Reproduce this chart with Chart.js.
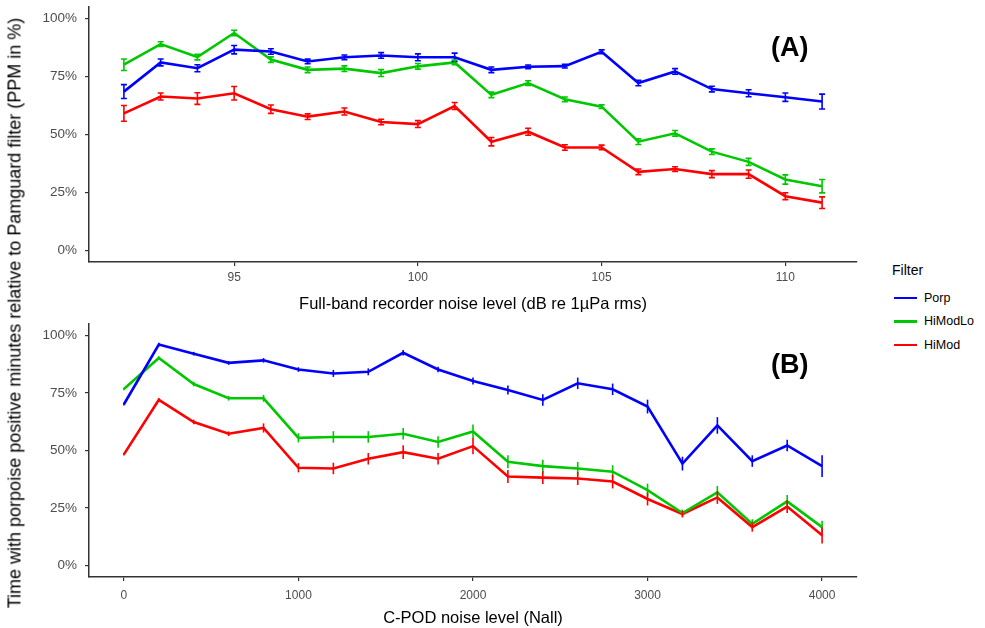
<!DOCTYPE html>
<html>
<head>
<meta charset="utf-8">
<script src="https://cdn.jsdelivr.net/npm/chart.js@4.4.0/dist/chart.umd.min.js"></script>
<style>
  body { margin: 0; background: #fff; font-family: "Liberation Sans", Arial, sans-serif; }
  #wrap { position: relative; width: 985px; height: 628px; overflow: hidden; }
  .panel { position: absolute; left: 0; width: 870px; height: 314px; }
  #panelA { top: 0; }
  #panelB { top: 314px; }
  #ytitle {
    position: absolute; left: 15px; top: 313px; white-space: nowrap;
    transform: translate(-50%, -50%) rotate(-90deg);
    font-size: 18px; color: #000;
  }
  .tag { position: absolute; font-weight: bold; font-size: 27px; color: #000; }
  #legend { position: absolute; left: 892px; top: 262px; font-size: 12.5px; color: #000; }
  #legend .head { font-size: 14px; margin-bottom: 8px; }
  #legend .item { display: flex; align-items: center; height: 23.5px; }
  #legend .sw { width: 23px; height: 2.5px; margin-right: 7px; margin-left: 2px; }
</style>
</head>
<body>
<div id="wrap">
  <div class="panel" id="panelA"><canvas id="chartA"></canvas></div>
  <div class="panel" id="panelB"><canvas id="chartB"></canvas></div>
  <div id="ytitle">Time with porpoise positive minutes relative to Pamguard filter (PPM in %)</div>
  <div class="tag" style="left:771px; top:32px;">(A)</div>
  <div class="tag" style="left:771px; top:349px;">(B)</div>
  <div id="legend">
    <div class="head">Filter</div>
    <div class="item"><span class="sw" style="background:#0000ff"></span>Porp</div>
    <div class="item"><span class="sw" style="background:#00c800"></span>HiModLo</div>
    <div class="item"><span class="sw" style="background:#ff0000"></span>HiMod</div>
  </div>
</div>
<script>
// ---- data ----
var filters = ["Porp", "HiModLo", "HiMod"];
var colors = ["#0000ff", "#00c800", "#ff0000"];
var yTicks = [0, 25, 50, 75, 100];

// panel A: full-band recorder noise level (dB)
var noiseA = [92, 93, 94, 95, 96, 97, 98, 99, 100, 101, 102, 103, 104, 105, 106, 107, 108, 109, 110, 111];
var ticksA = [95, 100, 105, 110];
var porpA     = [68.5, 81.1, 78.6, 86.6, 85.8, 81.5, 83.3, 84.1, 83.3, 83.3, 77.9, 79.2, 79.5, 85.7, 72.2, 77.2, 69.6, 67.8, 66.1, 64.2];
var hiModLoA  = [80.1, 89.0, 83.4, 93.8, 82.3, 77.9, 78.4, 76.5, 79.4, 81.1, 67.1, 72.2, 65.2, 62.0, 46.9, 50.5, 42.6, 38.2, 30.6, 27.7];
var hiModA    = [59.1, 66.4, 65.5, 67.8, 60.9, 57.7, 59.9, 55.4, 54.5, 62.3, 46.9, 51.2, 44.4, 44.4, 33.9, 35.1, 32.9, 32.9, 23.4, 20.6];
var porpErrA    = [3.0, 1.5, 1.5, 1.8, 1.2, 1.0, 1.0, 1.2, 1.5, 1.8, 1.2, 0.8, 0.8, 0.8, 1.2, 1.2, 1.2, 1.5, 1.8, 3.2];
var hiModLoErrA = [2.5, 1.0, 1.2, 1.2, 1.2, 1.2, 1.2, 1.5, 1.2, 1.0, 1.2, 1.0, 1.0, 0.8, 1.2, 1.2, 1.2, 1.5, 2.0, 2.9];
var hiModErrA   = [3.4, 1.5, 2.5, 2.9, 1.8, 1.2, 1.5, 1.2, 1.5, 1.5, 1.8, 1.5, 1.2, 1.0, 1.2, 1.0, 1.5, 1.8, 1.5, 2.5];

// panel B: C-POD noise level (Nall)
var noiseB = [0, 200, 400, 600, 800, 1000, 1200, 1400, 1600, 1800, 2000, 2200, 2400, 2600, 2800, 3000, 3200, 3400, 3600, 3800, 4000];
var ticksB = [0, 1000, 2000, 3000, 4000];
var porpB     = [70.1, 96.1, 92.1, 88.1, 89.2, 85.2, 83.5, 84.2, 92.5, 85.2, 80.2, 76.3, 72.0, 79.2, 76.6, 69.1, 44.3, 60.9, 45.4, 52.2, 43.2];
var hiModLoB  = [76.7, 90.2, 78.9, 72.7, 72.7, 55.5, 55.9, 55.9, 57.3, 53.7, 58.3, 45.1, 43.2, 42.2, 40.8, 32.8, 22.8, 31.8, 18.1, 27.9, 16.7];
var hiModB    = [48.3, 72.0, 62.4, 57.3, 59.8, 42.5, 42.2, 46.4, 49.3, 46.4, 51.9, 38.7, 38.2, 37.8, 36.5, 28.9, 22.4, 29.6, 16.7, 25.6, 13.1];
var porpErrB    = [0.5, 0.8, 0.8, 0.8, 1.0, 1.0, 1.5, 1.5, 1.2, 1.2, 1.5, 2.0, 2.5, 2.5, 2.5, 3.0, 3.0, 3.6, 2.5, 2.5, 4.7];
var hiModLoErrB = [0.5, 0.8, 1.0, 1.0, 1.5, 2.0, 2.5, 2.5, 2.5, 2.5, 3.0, 2.8, 2.8, 2.8, 2.8, 2.8, 1.5, 2.8, 2.0, 2.8, 2.8];
var hiModErrB   = [0.5, 0.8, 1.0, 1.0, 2.0, 2.0, 2.5, 2.5, 3.0, 2.5, 3.5, 2.8, 2.8, 2.8, 3.0, 2.8, 1.5, 2.8, 2.0, 2.8, 3.5];

// ---- error bar plugin ----
var errorBars = {
  id: 'errorBars',
  afterDatasetsDraw: function(chart, args, opts) {
    var ctx = chart.ctx;
    var ys = chart.scales.y;
    chart.data.datasets.forEach(function(ds, i) {
      var meta = chart.getDatasetMeta(i);
      ctx.save();
      ctx.strokeStyle = ds.borderColor;
      ctx.lineWidth = 1.6;
      meta.data.forEach(function(pt, j) {
        var v = ds.data[j].y, e = ds.errs[j];
        var top = ys.getPixelForValue(v + e), bot = ys.getPixelForValue(v - e);
        ctx.beginPath();
        ctx.moveTo(pt.x, top); ctx.lineTo(pt.x, bot);
        if (opts.cap) {
          ctx.moveTo(pt.x - opts.cap, top); ctx.lineTo(pt.x + opts.cap, top);
          ctx.moveTo(pt.x - opts.cap, bot); ctx.lineTo(pt.x + opts.cap, bot);
        }
        ctx.stroke();
      });
      ctx.restore();
    });
  }
};

function makeSets(xs, series, errs) {
  return series.map(function(vals, i) {
    return {
      label: filters[i],
      data: vals.map(function(v, j) { return { x: xs[j], y: v }; }),
      errs: errs[i],
      borderColor: colors[i],
      borderWidth: 2.6,
      pointRadius: 0,
      tension: 0,
      fill: false
    };
  });
}

function makeChart(id, xs, series, errs, xMin, xMax, xTicks, xTitle, cap, topPad, xHeight, tickPad, titlePad) {
  var axisColor = '#333333';
  var fam = '"Liberation Sans", Arial, sans-serif';
  return new Chart(document.getElementById(id), {
    type: 'line',
    data: { datasets: makeSets(xs, series, errs) },
    plugins: [errorBars],
    options: {
      responsive: true,
      maintainAspectRatio: false,
      animation: false,
      layout: { padding: { top: topPad, right: 13, left: 0, bottom: 0 } },
      plugins: {
        legend: { display: false },
        tooltip: { enabled: false },
        errorBars: { cap: cap }
      },
      scales: {
        x: {
          type: 'linear',
          min: xMin, max: xMax,
          afterBuildTicks: function(s) { s.ticks = xTicks.map(function(v) { return { value: v }; }); },
          afterFit: function(s) { s.height = xHeight; s.paddingLeft = 0; s.paddingRight = 0; },
          grid: { drawOnChartArea: false, drawTicks: true, tickLength: 4, color: axisColor, lineWidth: 1.2 },
          border: { display: true, color: axisColor, width: 1.5 },
          ticks: { color: '#4d4d4d', font: { size: 12, family: fam }, padding: tickPad, maxRotation: 0,
            callback: function(v) { return String(v); } },
          title: { display: true, text: xTitle, color: '#000', font: { size: 16.5, family: fam }, padding: { top: titlePad, bottom: 0 } }
        },
        y: {
          min: -5, max: 105,
          afterBuildTicks: function(s) { s.ticks = yTicks.map(function(v) { return { value: v }; }); },
          afterFit: function(s) { s.width = 89; s.paddingTop = 0; s.paddingBottom = 0; },
          grid: { drawOnChartArea: false, drawTicks: true, tickLength: 4, color: axisColor, lineWidth: 1.2 },
          border: { display: true, color: axisColor, width: 1.5 },
          ticks: { color: '#4d4d4d', font: { size: 13.5, family: fam }, padding: 8,
            callback: function(v) { return v + '%'; } }
        }
      }
    }
  });
}

makeChart('chartA', noiseA, [porpA, hiModLoA, hiModA], [porpErrA, hiModLoErrA, hiModErrA],
  91.05, 111.95, ticksA, 'Full-band recorder noise level (dB re 1\u00b5Pa rms)', 3, 7, 52, 4, 0);
makeChart('chartB', noiseB, [porpB, hiModLoB, hiModB], [porpErrB, hiModLoErrB, hiModErrB],
  -200, 4200, ticksB, 'C-POD noise level (Nall)', 0, 10, 51, 7, 2);
</script>
</body>
</html>
